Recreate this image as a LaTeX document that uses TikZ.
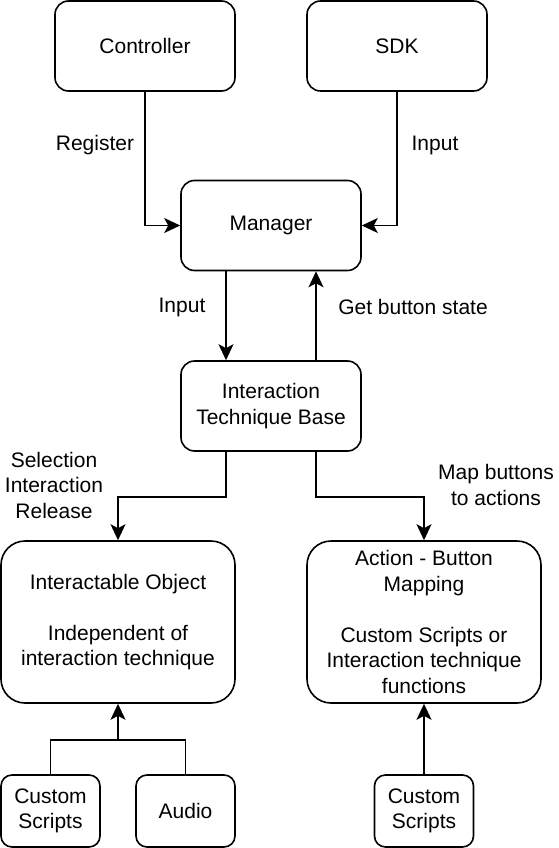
\documentclass[tikz,border=0pt]{standalone}
\usepackage{fontspec}
\setmainfont{Liberation Sans}
\usetikzlibrary{arrows.meta}
\begin{document}
\begin{tikzpicture}[x=1pt,y=-1pt,
  txt/.style={font=\fontsize{21}{25.5}\selectfont},
  box/.style={draw, line width=1.6pt, fill=white, align=center, inner sep=0pt, txt},
  bigbox/.style={box, minimum width=180pt, minimum height=90pt, rounded corners=13.5pt},
  widebox/.style={box, minimum width=234pt, minimum height=162pt, rounded corners=24pt},
  smallbox/.style={box, minimum width=99pt, minimum height=72pt, rounded corners=11pt},
  lbl/.style={align=center, inner sep=0pt, txt},
  conn/.style={line width=1.6pt, -{Stealth[length=16pt,width=15pt,inset=4pt]}},
  plain/.style={line width=1.6pt}
]
\useasboundingbox (0,0) rectangle (558,848);
\fill[white] (0,0) rectangle (558,848);

\node[bigbox] (ctrl) at (145,46) {Controller};
\node[bigbox] (sdk) at (397,46) {SDK};
\node[bigbox] (mgr) at (271,225.5) {Manager};
\node[bigbox] (itb) at (271,406) {Interaction\\Technique Base};
\node[widebox] (io) at (118,622) {Interactable Object\\[25.5pt]Independent of\\interaction technique};
\node[widebox] (abm) at (424,622) {Action - Button\\Mapping\\[25.5pt]Custom Scripts or\\Interaction technique\\functions};
\node[smallbox] (cs1) at (50.5,811) {Custom\\Scripts};
\node[smallbox] (aud) at (185.5,811) {Audio};
\node[smallbox] (cs2) at (424,811) {Custom\\Scripts};

\node[lbl] (l1) at (95,145) {Register};
\node[lbl] (l2) at (435,145) {Input};
\node[lbl] (l3) at (182,307) {Input};
\node[lbl] (l4) at (413,307) {Get button state};
\node[lbl] (l5) at (54,485) {Selection\\Interaction\\Release};
\node[lbl] (l6) at (496,485) {Map buttons\\to actions};

\draw[conn] (ctrl.south) |- (mgr.west);
\draw[conn] (sdk.south) |- (mgr.east);
\draw[conn] ([xshift=-45pt]mgr.south) -- ([xshift=-45pt]itb.north);
\draw[conn] ([xshift=45pt]itb.north) -- ([xshift=45pt]mgr.south);
\draw[conn] ([xshift=-45pt]itb.south) -- ++(0,45) -| (io.north);
\draw[conn] ([xshift=45pt]itb.south) -- ++(0,45) -| (abm.north);
\coordinate (j) at (118,740);
\draw[plain] (cs1.north) |- (j) -| (aud.north);
\draw[conn] (j) -- (io.south);
\draw[conn] (cs2.north) -- (abm.south);
\end{tikzpicture}
\end{document}
